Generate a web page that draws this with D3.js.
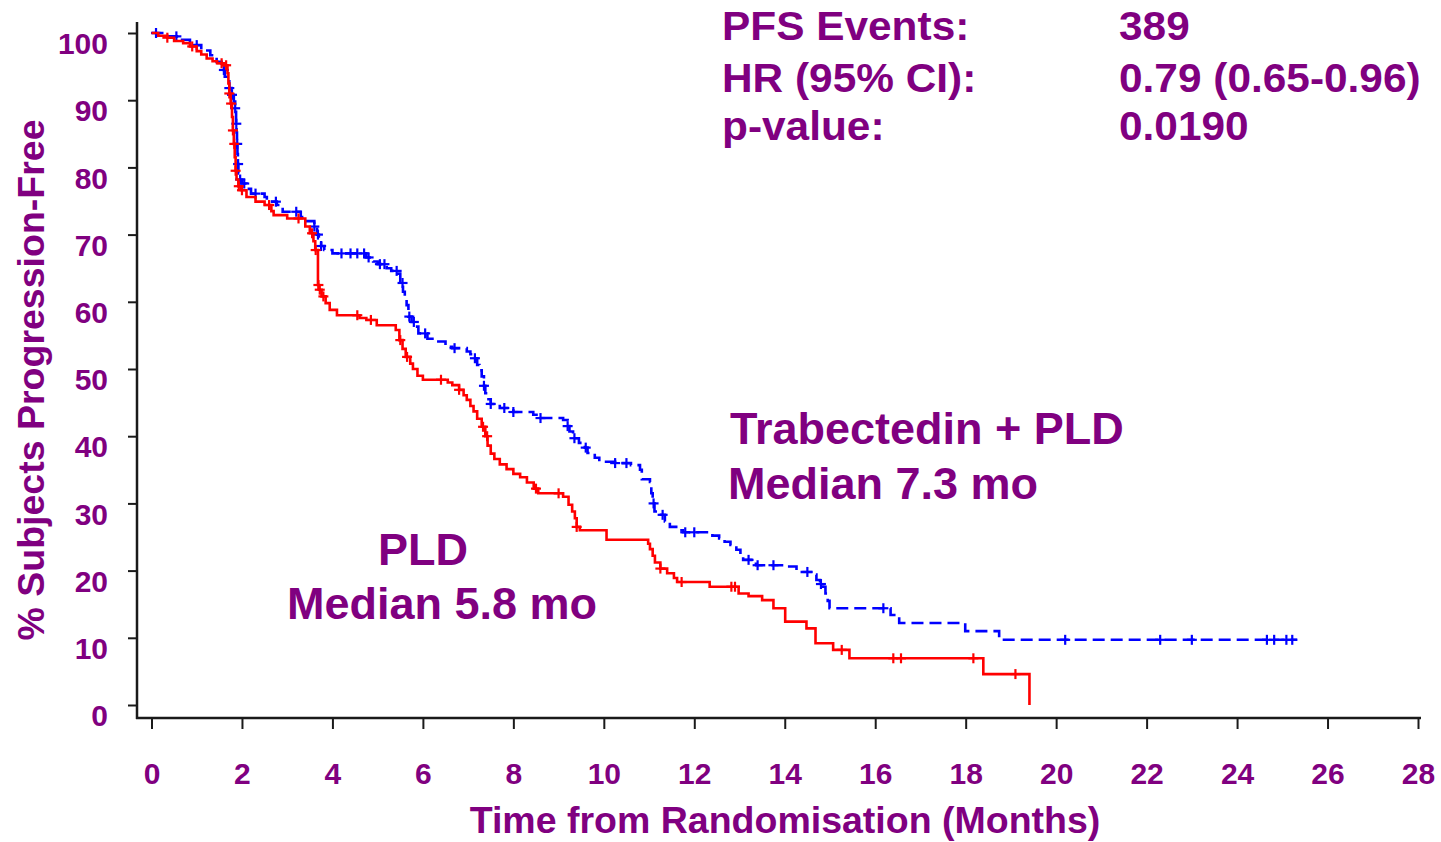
<!DOCTYPE html>
<html>
<head>
<meta charset="utf-8">
<script src="https://cdn.jsdelivr.net/npm/d3@7"></script>
<style>
  html, body { margin: 0; padding: 0; background: #fff; }
  svg { display: block; }
  text { font-family: "Liberation Sans", Arial, Helvetica, sans-serif; font-weight: bold; fill: #800080; }
</style>
</head>
<body>
<svg id="chart" width="1441" height="842"></svg>
<script>
// Axis ticks
const monthTicks = [0, 2, 4, 6, 8, 10, 12, 14, 16, 18, 20, 22, 24, 26, 28];
const pctTicks = [0, 10, 20, 30, 40, 50, 60, 70, 80, 90, 100];

// PLD arm: Kaplan-Meier steps (time in months, % progression-free after the step)
const pldTime = [0, 0.15, 0.35, 0.5, 0.7, 0.85, 1.0, 1.1, 1.22, 1.35, 1.45, 1.6,
  1.68, 1.7, 1.72, 1.75, 1.78, 1.8, 1.82, 1.84, 1.86, 1.88, 1.92, 1.98,
  2.1, 2.3, 2.5, 2.65, 2.7, 3.0, 3.4, 3.5, 3.58, 3.62, 3.68, 3.7, 3.76, 3.85, 3.94, 4.1,
  4.6, 4.75, 4.98, 5.4, 5.48, 5.55, 5.62, 5.72, 5.78, 5.88, 6.0, 6.55, 6.65, 6.8, 6.9,
  6.97, 7.05, 7.12, 7.2, 7.3, 7.38, 7.43, 7.5, 7.58, 7.7, 7.85, 8.0, 8.15, 8.3, 8.45,
  8.55, 9.1, 9.22, 9.3, 9.36, 9.4, 9.47, 10.06, 10.98, 11.02, 11.08, 11.13, 11.25,
  11.4, 11.55, 11.62, 12.34, 12.98, 13.2, 13.5, 13.75, 14.01, 14.48, 14.68, 15.07,
  15.43, 18.39, 19.41];
const pldPct = [100, 99.6, 99.3, 98.8, 98.5, 98.0, 97.3, 96.8, 96.2, 95.8, 95.5, 95.2,
  94.0, 92.5, 91.0, 89.5, 87.5, 85.5, 83.5, 81.5, 79.5, 78.2, 77.2, 76.6,
  75.6, 74.9, 74.4, 73.5, 72.9, 72.4, 71.2, 70.2, 69.0, 67.7, 62.5, 61.8, 60.8, 59.8, 58.8, 58.0,
  57.6, 57.3, 56.5, 55.8, 54.3, 53.0, 51.8, 50.8, 50.0, 49.0, 48.4, 48.0, 47.6, 46.9, 46.1,
  45.4, 44.5, 43.7, 42.6, 41.4, 40.0, 38.6, 37.4, 36.6, 35.8, 35.1, 34.4, 33.9, 33.1, 32.2,
  31.5, 31.0, 29.8, 28.8, 27.8, 26.5, 26.0, 24.6, 24.0, 23.2, 22.2, 21.2, 20.3,
  19.6, 18.9, 18.3, 17.6, 16.6, 16.2, 15.6, 14.4, 12.4, 11.4, 9.2, 8.2,
  6.95, 4.6, 0];
const pldCensor = [0.35, 0.9, 1.55, 1.65, 1.72, 1.76, 1.8, 1.83, 1.86, 1.93, 2.0, 2.6,
  3.25, 3.55, 3.63, 3.69, 3.72, 3.8, 4.55, 4.85, 5.5, 5.65, 6.4, 6.8, 7.33, 7.42,
  8.5, 9.0, 9.4, 11.25, 11.72, 12.82, 12.9, 15.26, 16.4, 16.57, 18.17, 19.1];

// Trabectedin + PLD arm
const trabTime = [0, 0.3, 0.6, 0.85, 1.1, 1.3, 1.44, 1.55, 1.62, 1.66, 1.72, 1.77, 1.82,
  1.85, 1.87, 1.88, 1.89, 1.9, 1.91, 1.92, 1.96, 2.0, 2.1, 2.2, 2.5, 2.55, 2.77, 2.9,
  3.3, 3.4, 3.6, 3.66, 3.7, 3.75, 3.82, 4.0, 4.75, 4.9, 5.0, 5.2, 5.3, 5.45, 5.5, 5.56,
  5.6, 5.64, 5.68, 5.75, 5.82, 5.9, 6.1, 6.3, 6.5, 6.65, 6.97, 7.05, 7.12, 7.2, 7.25,
  7.3, 7.35, 7.38, 7.45, 7.5, 7.7, 8.0, 8.44, 8.6, 9.1, 9.2, 9.24, 9.32, 9.45, 9.58,
  9.64, 9.8, 9.9, 10.25, 10.6, 10.8, 10.84, 11.02, 11.05, 11.08, 11.12, 11.2, 11.35,
  11.46, 11.6, 11.75, 12.4, 12.55, 12.67, 12.8, 12.93, 13.02, 13.08, 13.3, 13.37,
  14.04, 14.26, 14.65, 14.7, 14.78, 14.85, 14.9, 14.95, 14.99, 16.34, 16.53, 17.99,
  18.74, 25.33];
const trabPct = [100, 99.5, 99.0, 98.2, 97.4, 96.7, 95.7, 94.5, 93.5, 92.8, 91.8, 90.8, 89.8,
  88.8, 86.5, 85.2, 83.5, 82.0, 80.5, 79.1, 78.2, 77.6, 76.8, 76.1, 75.6, 74.9, 74.4, 73.4,
  72.6, 72.0, 71.2, 70.0, 69.0, 68.3, 67.7, 67.2, 66.6, 66.0, 65.6, 65.0, 64.6, 64.2, 62.8, 61.5,
  60.6, 59.5, 57.8, 57.0, 56.3, 55.3, 54.5, 54.1, 53.3, 53.1, 52.6, 52.2, 51.6, 50.6, 49.8,
  48.9, 47.5, 46.4, 45.5, 44.8, 44.2, 43.6, 43.2, 42.7, 42.4, 41.5, 40.7, 39.7, 39.0, 38.3,
  37.5, 36.8, 36.2, 36.0, 35.7, 35.0, 33.6, 33.2, 31.5, 30.0, 28.8, 28.3, 27.3,
  26.5, 26.0, 25.7, 25.2, 24.8, 24.3, 23.8, 23.1, 22.2, 21.6, 21.0, 20.8,
  20.6, 19.8, 19.4, 18.6, 18.0, 17.6, 16.6, 15.5, 14.4, 13.4, 12.2, 11.0,
  9.7, 9.7];
const trabCensor = [0.1, 0.55, 1.0, 1.6, 1.72, 1.78, 1.85, 1.875, 1.895, 1.915, 1.96, 2.05,
  2.3, 2.75, 3.2, 3.6, 3.68, 3.75, 4.2, 4.4, 4.55, 4.7, 4.8, 5.05, 5.15, 5.42, 5.55, 5.7,
  5.8, 6.05, 6.7, 7.15, 7.35, 7.5, 7.8, 8.0, 8.6, 9.2, 9.35, 9.6, 10.25, 10.5, 11.1, 11.3,
  11.8, 12.0, 13.2, 13.4, 13.75, 14.5, 14.8, 16.18, 20.2, 22.3, 23.0, 24.66, 24.82,
  25.09, 25.22];

// Summary statistics
const statLabels = ["PFS Events:", "HR (95% CI):", "p-value:"];
const statValues = ["389", "0.79 (0.65-0.96)", "0.0190"];

const svg = d3.select("#chart");
const purple = "#800080";
const axisColor = "#1a1a1a";

const x = d3.scaleLinear().domain([0, 28]).range([151.5, 1418]);
const y = d3.scaleLinear().domain([0, 100]).range([705, 33]);

const axisX0 = 137;   // vertical axis position
const axisY0 = 718;   // horizontal axis position

// Axes lines
svg.append("line")
  .attr("x1", axisX0).attr("x2", axisX0)
  .attr("y1", 22).attr("y2", axisY0 + 1)
  .attr("stroke", axisColor).attr("stroke-width", 2.5);
svg.append("line")
  .attr("x1", axisX0 - 1).attr("x2", 1421)
  .attr("y1", axisY0).attr("y2", axisY0)
  .attr("stroke", axisColor).attr("stroke-width", 2.5);

// Y axis ticks and labels
const gy = svg.append("g")
  .attr("transform", `translate(${axisX0},0)`)
  .call(d3.axisLeft(y).tickValues(pctTicks).tickSize(9).tickPadding(20));
gy.select(".domain").remove();
gy.selectAll(".tick line").attr("stroke", axisColor).attr("stroke-width", 2);
gy.selectAll(".tick text")
  .attr("y", 11)
  .attr("fill", purple)
  .style("font-size", "30px");

// X axis ticks and labels
const gx = svg.append("g")
  .attr("transform", `translate(0,${axisY0})`)
  .call(d3.axisBottom(x).tickValues(monthTicks).tickSize(11).tickPadding(34));
gx.select(".domain").remove();
gx.selectAll(".tick line").attr("stroke", axisColor).attr("stroke-width", 2);
gx.selectAll(".tick text")
  .attr("fill", purple)
  .style("font-size", "30px");

// Axis titles
svg.append("text")
  .attr("x", 785).attr("y", 833)
  .attr("text-anchor", "middle")
  .style("font-size", "37.5px")
  .text("Time from Randomisation (Months)");
svg.append("text")
  .attr("transform", "translate(44,380) rotate(-90)")
  .attr("text-anchor", "middle")
  .style("font-size", "37.5px")
  .text("% Subjects Progression-Free");

// Kaplan-Meier curves
const pldSteps = pldTime.map((t, i) => [t, pldPct[i]]);
const trabSteps = trabTime.map((t, i) => [t, trabPct[i]]);

const stepLine = d3.line()
  .x(d => x(d[0]))
  .y(d => y(d[1]))
  .curve(d3.curveStepAfter);

function survivalAt(times, pcts, t) {
  const i = d3.bisectRight(times, t) - 1;
  return pcts[Math.max(0, i)];
}

function drawArm(steps, times, pcts, censors, color, dash) {
  svg.append("path")
    .datum(steps)
    .attr("d", stepLine)
    .attr("fill", "none")
    .attr("stroke", color)
    .attr("stroke-width", 2.6)
    .attr("stroke-dasharray", dash)
    .attr("stroke-linejoin", "miter");

  const marks = svg.append("g");
  censors.forEach(t => {
    const cx = x(t), cy = y(survivalAt(times, pcts, t));
    marks.append("line")
      .attr("x1", cx).attr("x2", cx)
      .attr("y1", cy - 5).attr("y2", cy + 5)
      .attr("stroke", color).attr("stroke-width", 2.2);
    marks.append("line")
      .attr("x1", cx - 5).attr("x2", cx + 5)
      .attr("y1", cy).attr("y2", cy)
      .attr("stroke", color).attr("stroke-width", 2.2);
  });
}

drawArm(trabSteps, trabTime, trabPct, trabCensor, "#0000ff", "12,6");
drawArm(pldSteps, pldTime, pldPct, pldCensor, "#ff0000", null);

// Arm labels
svg.append("text").attr("x", 730).attr("y", 444).style("font-size", "45px").text("Trabectedin + PLD");
svg.append("text").attr("x", 728).attr("y", 499).style("font-size", "45px").text("Median 7.3 mo");
svg.append("text").attr("x", 378).attr("y", 565).style("font-size", "45px").text("PLD");
svg.append("text").attr("x", 287).attr("y", 619).style("font-size", "45px").text("Median 5.8 mo");

// Summary statistics block
const rowBase = [40, 91.5, 140];
statLabels.forEach((lab, i) => {
  svg.append("text")
    .attr("transform", `translate(722,${rowBase[i]}) scale(1.06,1)`)
    .style("font-size", "40px")
    .text(lab);
  svg.append("text")
    .attr("transform", `translate(1119,${rowBase[i]}) scale(1.06,1)`)
    .style("font-size", "40px")
    .text(statValues[i]);
});
</script>
</body>
</html>
